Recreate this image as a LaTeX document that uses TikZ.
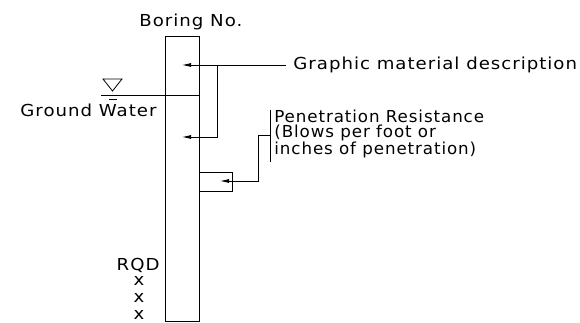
\documentclass[tikz,border=0pt]{standalone}
\usepackage{fontspec}
\newfontfamily\cadfont{DejaVu Sans}[FakeStretch=1.1, LetterSpace=6]
\usetikzlibrary{arrows.meta}

\tikzset{
	lbl/.style={font=\cadfont\fontsize{16.5}{15}\selectfont, inner sep=0pt},
	ptr/.style={-{Latex[length=9pt,width=4pt]}},
}

\begin{document}
\begin{tikzpicture}[x=1pt, y=-1pt, line width=0.8pt]
		% 1. 画布
		\useasboundingbox (0,0) rectangle (580,323);
		
		% 2. 钻孔柱
		\draw[line width=0.9pt] (165,36) rectangle (199,321);
		\node[lbl, anchor=base west] (boring) at (139,27) {Boring No.};
		
		% 3. 材料描述
		\node[lbl, anchor=base west] (graphic) at (293,70) {Graphic material description};
		\coordinate (gEnd) at (286,65);
		\coordinate (gTee) at (217,65);
		\coordinate (gTip1) at (182,65);
		\coordinate (gTip2) at (182,137);
		\draw[ptr] (gEnd) -- (gTip1);
		\draw[ptr] (gTee) |- (gTip2);
		
		% 4. 地下水位
		\node[lbl, anchor=base west] (water) at (20,117) {Ground Water};
		\draw (101,95) -- (199,95);
		\draw (103,79) -- (122,79) -- (112.5,91) -- cycle;
		\draw (109,99) -- (117,99);
		
		% 5. 贯入阻力
		\node[lbl, anchor=north west, align=left, xscale=0.92, transform shape] (pen) at (274,109.5)
			{Penetration Resistance\\(Blows per foot or\\inches of penetration)};
		\coordinate (barTop) at (270,110);
		\coordinate (barBot) at (270,162);
		\coordinate (barMid) at (270,135);
		\coordinate (pTip) at (220,181);
		\draw (barTop) -- (barBot);
		\draw[ptr] (barMid) -- (258,135) |- (pTip);
		\draw (199,172) rectangle (232,191);
		
		% 6. RQD
		\node[lbl, anchor=base east] (rqd) at (160,270) {RQD};
		\foreach \yy [count=\i] in {281,298,315}
			\node[lbl, anchor=center] (x\i) at (139,\yy) {x};
		
	\end{tikzpicture}
\end{document}
